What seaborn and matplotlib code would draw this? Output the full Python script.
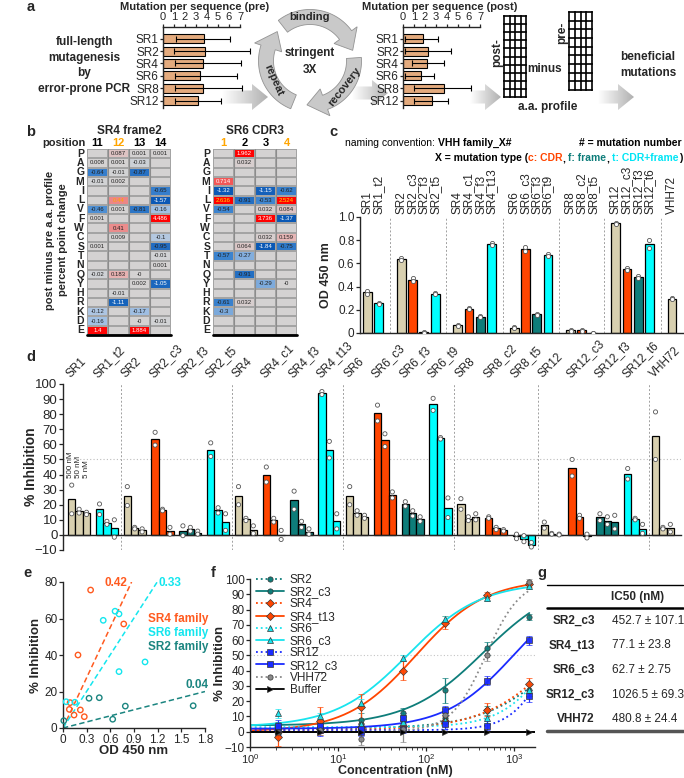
import numpy as np
import pandas as pd
import matplotlib
matplotlib.use("Agg")
import matplotlib.pyplot as plt
import seaborn as sns
from matplotlib.colors import LinearSegmentedColormap, TwoSlopeNorm
from matplotlib.patches import Polygon
from matplotlib.lines import Line2D
from matplotlib.transforms import ScaledTranslation

W, H = 684, 778

# ---------------- panel a : mutations per sequence ----------------
a_names = ["SR1", "SR2", "SR4", "SR6", "SR8", "SR12"]
a_pre = [3.7, 3.8, 3.6, 3.4, 3.6, 3.2]
a_pre_lo = [1.2, 1.0, 1.1, 1.1, 1.1, 1.1]
a_pre_hi = [6.1, 7.9, 7.1, 6.7, 7.2, 5.3]
a_post = [1.8, 2.3, 2.2, 1.6, 3.7, 2.6]
a_post_lo = [0.2, 0.2, 0.8, 0.2, 1.0, 1.0]
a_post_hi = [3.2, 4.4, 3.7, 2.8, 6.2, 4.1]

# ---------------- panel b : a.a. profile change ----------------
aa = list("PAGMILVFWCSTNQYHRKDE")
sr4_pos = ["11", "12", "13", "14"]
sr4_11 = ["", "0.008", "-0.64", "-0.01", "", "", "-0.46", "0.001", "", "", "0.001", "", "", "-0.02", "", "", "", "-0.12", "-0.16", "1.4"]
sr4_12 = ["0.087", "0.001", "-0.01", "0.002", "", "0.44", "0.001", "", "0.41", "0.009", "", "", "", "0.183", "", "-0.01", "-1.11", "", "", ""]
sr4_13 = ["0.001", "-0.03", "-0.87", "", "", "", "-0.81", "", "", "", "", "", "", "-0", "0.002", "", "", "-0.17", "-0", "1.884"]
sr4_14 = ["0.001", "", "", "", "-0.65", "-1.57", "-0.16", "4.486", "", "-0.1", "-0.95", "-0.01", "0.001", "", "-1.05", "", "", "", "-0.01", ""]
sr6_pos = ["1", "2", "3", "4"]
sr6_1 = ["", "", "", "0.714", "-1.32", "2.636", "-0.54", "", "", "", "", "-0.57", "", "", "", "", "-0.61", "-0.3", "", ""]
sr6_2 = ["1.962", "0.032", "", "", "", "-0.91", "", "", "", "", "0.064", "-0.27", "", "-0.91", "", "", "0.032", "", "", ""]
sr6_3 = ["", "", "", "", "-1.15", "-0.53", "0.032", "3.736", "", "0.032", "-1.84", "", "", "", "-0.29", "", "", "", "", ""]
sr6_4 = ["", "", "", "", "-0.62", "2.524", "0.084", "-1.37", "", "0.159", "-0.75", "", "", "", "-0", "", "", "", "", ""]

# ---------------- panel c : OD 450 ----------------
c_groups = [["SR1", "SR1_t2"], ["SR2", "SR2_c3", "SR2_f3", "SR2_t5"],
            ["SR4", "SR4_c1", "SR4_f3", "SR4_t13"], ["SR6", "SR6_c3", "SR6_f3", "SR6_t9"],
            ["SR8", "SR8_c2", "SR8_t5"], ["SR12", "SR12_c3", "SR12_f3", "SR12_t6"], ["VHH72"]]
ab_names = [n for g in c_groups for n in g]
c_rep1 = [0.36, 0.26, 0.65, 0.47, 0.01, 0.345, 0.07, 0.215, 0.145, 0.78, 0.05, 0.74, 0.165, 0.68, 0.03, 0.03, 0.0, 0.95, 0.56, 0.49, 0.80, 0.30]
c_rep2 = [0.34, 0.25, 0.63, 0.45, 0.0, 0.335, 0.06, 0.205, 0.135, 0.76, 0.04, 0.71, 0.155, 0.66, 0.02, 0.02, 0.0, 0.94, 0.54, 0.47, 0.73, 0.29]

# ---------------- panel d : % inhibition (two replicates) ----------------
d_concs = ["500 nM", "50 nM", "5 nM"]
d500_r1 = [33, 20.5, 32, 68, 6, 61, 32, 45, 29, 95, 32, 86, 22, 90.5, 24, 12, 0.5, 8.5, 50, 14, 44, 81.5]
d500_r2 = [14, 13.5, 19.5, 59.5, -0.5, 52, 20, 35, 17, 93, 20, 75.5, 19, 82.5, 17, 11, -2.5, 4.5, 39, 9.5, 37, 50]
d50_r1 = [17, 9, 5, 17, 5, 18, 11, 11, 9, 62, 16, 67, 16, 64.5, 12, 5, -0.5, 1, 13, 12, 11, 5]
d50_r2 = [14.5, 7, 4, 16, 2.5, 14.5, 9.5, 8.5, 5, 51, 13, 58.5, 12.5, 63.5, 9.5, 3.5, -4.5, 0.5, 11, 7, 10, 4]
d5_r1 = [15, 10, 4, 5, 2.5, 14, 6, 3, 4, 14, 13, 28.5, 12, 24.5, 14, 3.5, -5, 0.5, 0.5, 13, 7, 7]
d5_r2 = [13.5, -1.5, 2, 0.5, 0.5, 3, 1, -3, 0.5, 4, 11, 24.5, 9, 11.5, 10, 2.5, -8, 0, -2, 4, 1, 2]

# ---------------- panel e : OD vs inhibition ----------------
e_fams = ["SR4 family", "SR6 family", "SR2 family"]
e_sr4_od = [0.35, 0.77, 0.19, 0.09, 0.08, 0.22, 0.14, 0.27]
e_sr4_inh = [75.6, 57, 40, 13.9, 10.2, 9.9, 7.1, 6.2]
e_sr6_od = [0.66, 0.71, 0.51, 1.04, 0.71, 0.04, 0.15]
e_sr6_inh = [64, 62.5, 59, 36.2, 30.9, 14.4, 14.1]
e_sr2_od = [0.01, 0.33, 0.46, 0.79, 0.63, 1.65]
e_sr2_inh = [4, 16.3, 16.6, 12, 4.8, 12.2]
e_fit_slope = [92, 67, 11.1]
e_fit_label = ["0.42", "0.33", "0.04"]

# ---------------- panel f : dose response ----------------
f_conc = [2.06, 6.17, 18.5, 55.6, 167, 500, 1500]
f_names = ["SR2", "SR2_c3", "SR4", "SR4_t13", "SR6", "SR6_c3", "SR12", "SR12_c3", "VHH72", "Buffer"]
f_mean = {
    "SR2": [1.5, 3, 5, 7.5, 9, 14, 27.5],
    "SR2_c3": [2.5, 3.5, 8, 12.5, 27, 54.5, 75],
    "SR4": [0, 2, 3, 4, 7, 14.5, 31],
    "SR4_t13": [-3.5, 7, 16.5, 40, 71.5, 89.5, 96.5],
    "SR6": [2, 3.5, 5, 6.5, 8, 9, 27.5],
    "SR6_c3": [12, 10, 18.5, 48.5, 74, 87.5, 95.5],
    "SR12": [2, 1, 0, 2, 5, 4, 23.5],
    "SR12_c3": [3.5, 4, 2, 9, 14, 33.5, 60],
    "VHH72": [0, 1, -4.5, 2, 11, 50, 98],
    "Buffer": [0, 0, 0, 0, 0, 0, 0],
}
f_sd = {
    "SR2": [3, 3, 3, 3, 4, 3, 4],
    "SR2_c3": [4, 4, 4, 3, 8, 4, 2],
    "SR4": [3, 3, 3, 3, 3, 4, 4],
    "SR4_t13": [6, 9, 8, 6, 4, 2, 2],
    "SR6": [3, 3, 3, 3, 3, 3, 3],
    "SR6_c3": [3, 2, 3, 2, 2, 2, 2],
    "SR12": [4, 4, 3, 3, 3, 3, 4],
    "SR12_c3": [4, 4, 3, 3, 3, 3, 3],
    "VHH72": [3, 3, 4, 9, 4, 4, 2],
    "Buffer": [0, 0, 0, 0, 0, 0, 0],
}
# 4PL fit: bottom, top, IC50, hill
f_fit = {
    "SR2": (2, 100, 4000, 1.0), "SR2_c3": (4, 100, 452.7, 1.0),
    "SR4": (1, 100, 3500, 1.0), "SR4_t13": (0, 100, 77.1, 1.1),
    "SR6": (3, 100, 3000, 1.5), "SR6_c3": (3, 98, 62.7, 1.05),
    "SR12": (1, 100, 2700, 2.0), "SR12_c3": (2, 100, 1026.5, 1.1),
    "VHH72": (0, 100, 480.8, 2.2),
}

# ---------------- panel g : IC50 table ----------------
g_names = ["SR2_c3", "SR4_t13", "SR6_c3", "SR12_c3", "VHH72"]
g_vals = ["452.7 \u00b1 107.1", "77.1 \u00b1 23.8", "62.7 \u00b1 2.75", "1026.5 \u00b1 69.3", "480.8 \u00b1 24.4"]

# ---------------- style ----------------
BEIGE = "#D8D0B0"
ORANGE = "#FF4500"
TEAL = "#0E7D7A"
CYAN = "#00FFFF"
BLUE = "#1A2BFF"
GREY = "#8a8a8a"


def ab_color(n):
    if "_c" in n:
        return ORANGE
    if "_f" in n:
        return TEAL
    if "_t" in n:
        return CYAN
    return BEIGE


ab_colors = {n: ab_color(n) for n in ab_names}

sns.set_style("ticks")
plt.rcParams["font.family"] = ["Liberation Sans", "DejaVu Sans"]
plt.rcParams["mathtext.fontset"] = "custom"
plt.rcParams["mathtext.rm"] = "Liberation Sans"
plt.rcParams["axes.linewidth"] = 1.0
plt.rcParams["xtick.major.width"] = 0.9
plt.rcParams["ytick.major.width"] = 0.9

fig = plt.figure(figsize=(W / 100, H / 100), dpi=100)
ax0 = fig.add_axes([0, 0, 1, 1])
ax0.axis("off")


def box(x0, y0, x1, y1):
    ax = fig.add_axes([x0 / W, 1 - y1 / H, (x1 - x0) / W, (y1 - y0) / H])
    ax.patch.set_alpha(0)
    return ax


def txt(x, y, s, size=8, bold=False, **kw):
    kw.setdefault("ha", "center")
    kw.setdefault("va", "center")
    return ax0.text(x, y, s, fontsize=size, fontweight="bold" if bold else "normal", **kw)


rend = fig.canvas.get_renderer()


def text_w(s, size, wt):
    t = ax0.text(0, 0, s, fontsize=size, fontweight=wt)
    w = t.get_window_extent(rend).width
    t.remove()
    return w


def rich_text(x, y, parts, size, align="left"):
    sp = text_w("x x", size, "bold") - text_w("xx", size, "bold")
    items, total = [], 0
    for s, col, wt in parts:
        lead = len(s) - len(s.lstrip(" "))
        trail = len(s) - len(s.rstrip(" "))
        core = s.strip(" ")
        w = text_w(core, size, wt) if core else 0
        items.append((core, col, wt, total + lead * sp))
        total += lead * sp + w + trail * sp
    x0 = x if align == "left" else x - total
    for core, col, wt, off in items:
        if core:
            ax0.text(x0 + off, y, core, fontsize=size, color=col, fontweight=wt, ha="left", va="center")


# ================= panel a =================
for lbl, x, y in [("a", 31, 7), ("b", 31, 132), ("c", 333, 132), ("d", 31, 357),
                  ("e", 28, 573), ("f", 213, 573), ("g", 542, 573)]:
    txt(x, y, lbl, 10.5, True)

fade = LinearSegmentedColormap.from_list("fade", ["#ffffff", "#b0b0b0"])


def big_arrow(x0, x1, yc, th=13, hh=26, hl=16):
    pts = [(x0, yc - th / 2), (x1 - hl, yc - th / 2), (x1 - hl, yc - hh / 2), (x1, yc),
           (x1 - hl, yc + hh / 2), (x1 - hl, yc + th / 2), (x0, yc + th / 2)]
    poly = Polygon(pts, closed=True, fc="none", ec="none")
    ax0.add_patch(poly)
    im = ax0.imshow(np.linspace(0, 1, 128)[None, :], extent=(x0, x1, yc + hh / 2, yc - hh / 2),
                    cmap=fade, aspect="auto", zorder=0.5)
    im.set_clip_path(poly)


big_arrow(222, 268, 97)
big_arrow(352, 388, 93)
big_arrow(470, 501, 97)
big_arrow(598, 634, 97)


def mut_panel(x0, x1, means, lo, hi):
    ax = box(x0, 27, x1, 108)
    sns.barplot(x=means, y=a_names, orient="h", color="#E4AB7E", saturation=1,
                edgecolor="black", linewidth=0.8, width=0.72, ax=ax)
    ax.errorbar(means, np.arange(len(means)), xerr=[np.subtract(means, lo), np.subtract(hi, means)],
                fmt="none", ecolor="black", elinewidth=0.8, capsize=2.2, capthick=0.8, clip_on=False, zorder=4)
    ax.set_xlim(0, 7)
    ax.set_ylim(5.6, -0.95)
    ax.xaxis.tick_top()
    ax.set_xticks(range(8))
    ax.tick_params(axis="x", labelsize=8, length=2.5, pad=1)
    ax.tick_params(axis="y", labelsize=8.5, length=2, pad=1)
    ax.spines["bottom"].set_visible(False)
    ax.spines["right"].set_visible(False)
    ax.set_xlabel("")
    ax.set_ylabel("")
    return ax


mut_panel(163, 240, a_pre, a_pre_lo, a_pre_hi)
mut_panel(403, 480, a_post, a_post_lo, a_post_hi)
txt(195, 7, "Mutation per sequence (pre)", 8, True)
txt(440, 7, "Mutation per sequence (post)", 8, True)
for i, s in enumerate(["full-length", "mutagenesis", "by", "error-prone PCR"]):
    txt(84, 42 + 15.5 * i, s, 8.5, True)

# stringent selection cycle
cx, cy, r, wd = 310, 61, 44, 15


def arc_arrow(t0, t1, ttip, color="#c9c9c9"):
    ang = np.radians(np.linspace(t0, t1, 40))
    outer = [(cx + (r + wd / 2) * np.cos(a), cy - (r + wd / 2) * np.sin(a)) for a in ang]
    inner = [(cx + (r - wd / 2) * np.cos(a), cy - (r - wd / 2) * np.sin(a)) for a in ang[::-1]]
    a1, at = np.radians(t1), np.radians(ttip)
    hw = wd * 0.95
    head = [(cx + (r + hw) * np.cos(a1), cy - (r + hw) * np.sin(a1)),
            (cx + r * np.cos(at), cy - r * np.sin(at)),
            (cx + (r - hw) * np.cos(a1), cy - (r - hw) * np.sin(a1))]
    ax0.add_patch(Polygon(outer + head + inner, closed=True, fc=color, ec="#939393", lw=0.6, zorder=1))


arc_arrow(128, 36, 14)
arc_arrow(4, -70, -94)
arc_arrow(-112, -198, -222)
txt(310, 17, "binding", 8, True, zorder=3)
txt(310, 53, "stringent", 8.5, True)
txt(310, 70, "3X", 8.5, True)
txt(274, 80, "repeat", 8, True, rotation=-66, zorder=3)
txt(345, 87, "recovery", 8, True, rotation=52, zorder=3)


def grid(x0, y0, x1, y1, nc, nr):
    for i in range(nc + 1):
        xx = x0 + (x1 - x0) * i / nc
        ax0.plot([xx, xx], [y0, y1], color="black", lw=1.2, solid_capstyle="projecting")
    for j in range(nr + 1):
        yy = y0 + (y1 - y0) * j / nr
        ax0.plot([x0, x1], [yy, yy], color="black", lw=1.2, solid_capstyle="projecting")


grid(504, 16, 526, 97, 4, 10)
grid(569, 12, 592, 90, 4, 9)
txt(497, 53, "post-", 8.5, True, rotation=90)
txt(562, 33, "pre-", 8.5, True, rotation=90)
txt(545, 69, "minus", 8.5, True)
txt(548, 107, "a.a. profile", 8.5, True)
txt(648, 57, "beneficial", 8.5, True)
txt(648, 73, "mutations", 8.5, True)

# ================= panel b =================
hm_cmap = LinearSegmentedColormap.from_list(
    "hm", [(0.0, "#0a58b5"), (0.3, "#3f86d0"), (0.45, "#a9c4e4"), (0.5, "#d3d3d3"),
           (0.55, "#e6b8b8"), (0.72, "#f06060"), (0.85, "#ff1a1a"), (1.0, "#ff0000")])
hm_norm = TwoSlopeNorm(vmin=-1.3, vcenter=0, vmax=1.5)


def heat_panel(x0, cols, pos_labels, pos_colors, hi_cells):
    ax = box(x0, 149, x0 + 84, 335)
    lab = np.array(cols).T
    val = np.array([[float(s) if s else 0.0 for s in row] for row in lab])
    sns.heatmap(val, ax=ax, cmap=hm_cmap, norm=hm_norm, annot=lab, fmt="", cbar=False,
                linewidths=0.35, linecolor="#a4a4a4", xticklabels=pos_labels, yticklabels=aa,
                annot_kws={"fontsize": 4.3})
    for t in ax.texts:
        px, py = t.get_position()
        ci, ri = int(px), int(py)
        v = val[ri, ci]
        col = "white" if (v <= -1.0 or v >= 0.6) else "#222222"
        for (hr, hc, hcol) in hi_cells:
            if hr == ri and hc == ci:
                col = hcol
        t.set_color(col)
    for k in range(1, 4):
        ax.axvline(k, color="#8c8c8c", lw=0.8)
    ax.axhline(20, color="black", lw=2.0, clip_on=False)
    ax.xaxis.tick_top()
    ax.tick_params(axis="x", length=0, pad=1, labelsize=8)
    ax.tick_params(axis="y", length=0, pad=2, labelsize=7.5, rotation=0)
    for lbl, c in zip(ax.get_xticklabels(), pos_colors):
        lbl.set_color(c)
        lbl.set_fontweight("bold")
    for lbl in ax.get_yticklabels():
        lbl.set_fontweight("bold")
    return ax


heat_panel(87, [sr4_11, sr4_12, sr4_13, sr4_14], sr4_pos, ["black", "#FFA500", "black", "black"],
           [(5, 1, "#FFA500")])
heat_panel(213, [sr6_1, sr6_2, sr6_3, sr6_4], sr6_pos, ["#FFA500", "black", "black", "#FFA500"],
           [(5, 0, "#FFE000"), (5, 3, "#FFE000")])
txt(129, 131, "SR4 frame2", 8.5, True)
txt(255, 131, "SR6 CDR3", 8.5, True)
txt(86, 143, "position", 8, True, ha="right")
txt(50, 240, "post minus pre a.a. profile", 8, True, rotation=90)
txt(63, 240, "percent point change", 8, True, rotation=90)

# ================= panel c =================
c_slots = []
for gi, g in enumerate(c_groups):
    if gi:
        c_slots.append(" " * gi)
    c_slots += g
dfc = pd.DataFrame({"ab": ab_names * 2, "od": c_rep1 + c_rep2})
axc = box(360, 217, 683, 333)
sns.barplot(data=dfc, x="ab", y="od", hue="ab", order=c_slots, hue_order=ab_names, palette=ab_colors,
            errorbar=None, width=0.78, saturation=1, edgecolor="black", linewidth=0.9, legend=False, ax=axc)
sns.stripplot(data=dfc, x="ab", y="od", order=c_slots, jitter=False, color="white",
              edgecolor="#555555", linewidth=0.6, size=3.0, ax=axc, zorder=4)
for i, s in enumerate(c_slots):
    if not s.strip():
        axc.axvline(i, 0, 1, color="#a0a0a0", ls=(0, (2, 2)), lw=0.7, zorder=0)
axc.set_xlim(-0.66, 27.97)
axc.set_ylim(0, 1.0)
axc.set_yticks([0, 0.2, 0.4, 0.6, 0.8, 1.0])
axc.set_yticklabels(["0", "0.2", "0.4", "0.6", "0.8", "1.0"])
axc.xaxis.tick_top()
axc.set_xticks(range(len(c_slots)))
axc.set_xticklabels([s.strip() for s in c_slots], rotation=90)
axc.tick_params(axis="x", length=0, pad=2, labelsize=8.5)
axc.tick_params(axis="y", length=3, pad=1, labelsize=8.5)
axc.spines["top"].set_visible(False)
axc.spines["right"].set_visible(False)
axc.set_xlabel("")
axc.set_ylabel("")
txt(326, 275, "OD 450 nm", 9, True, rotation=90)
rich_text(345, 143, [("naming convention: ", "black", "normal"), ("VHH family_X#", "black", "bold")], 7.5)
rich_text(682, 143, [("# = mutation number", "black", "bold")], 7.5, align="right")
rich_text(682, 158, [("X = mutation type (", "black", "bold"), ("c: CDR", ORANGE, "bold"), (", ", "black", "bold"),
                     ("f: frame", TEAL, "bold"), (", ", "black", "bold"), ("t: CDR+frame", "#00E5F5", "bold"),
                     (")", "black", "bold")], 7.5, align="right")

# ================= panel d =================
rows = []
for conc, r1, r2 in zip(d_concs, [d500_r1, d50_r1, d5_r1], [d500_r2, d50_r2, d5_r2]):
    for n, v1, v2 in zip(ab_names, r1, r2):
        rows += [(n, conc, v1), (n, conc, v2)]
dfd = pd.DataFrame(rows, columns=["ab", "conc", "val"])
axd = box(63, 384, 681, 550)
sns.barplot(data=dfd, x="ab", y="val", hue="conc", order=ab_names, hue_order=d_concs,
            palette=[BEIGE] * 3, errorbar=None, width=0.8, saturation=1, edgecolor="black",
            linewidth=0.9, legend=False, ax=axd)
for cont in axd.containers:
    for bar in cont:
        idx = int(round(bar.get_x() + bar.get_width() / 2))
        bar.set_facecolor(ab_colors[ab_names[idx]])
sns.stripplot(data=dfd, x="ab", y="val", hue="conc", order=ab_names, hue_order=d_concs, dodge=True,
              jitter=False, palette=["white"] * 3, edgecolor="#555555", linewidth=0.6, size=3.0,
              legend=False, ax=axd, zorder=4)
sep = np.cumsum([len(g) for g in c_groups])[:-1] - 0.5
for s in sep:
    axd.axvline(s, color="#a0a0a0", ls=(0, (2, 2)), lw=0.7, zorder=0)
axd.axhline(50, color="#bdbdbd", ls=(0, (1, 2)), lw=0.8, zorder=0)
axd.set_xlim(-0.58, 21.65)
axd.set_ylim(-10, 100)
axd.set_yticks(range(-10, 101, 10))
axd.spines["bottom"].set_position(("data", 0))
axd.spines["top"].set_visible(False)
axd.spines["right"].set_visible(False)
axd.xaxis.tick_top()
axd.set_xticks(range(len(ab_names)))
axd.set_xticklabels(ab_names, rotation=45, ha="left", rotation_mode="anchor")
axd.tick_params(axis="x", length=0, pad=3, labelsize=8.5)
axd.tick_params(axis="y", length=3, pad=1, labelsize=9.5)
axd.set_xlabel("")
axd.set_ylabel("")
shift = ScaledTranslation(-0.07, 0, fig.dpi_scale_trans)
for lbl in axd.get_xticklabels():
    lbl.set_transform(lbl.get_transform() + shift)
txt(31, 467, "% Inhibition", 10, True, rotation=90)
for x, s in zip([70, 78.5, 87], d_concs):
    txt(x, 478, s, 5.8, rotation=90, va="bottom")

# ================= panel e =================
axe = box(63, 582, 205, 728)
e_colors = {"SR4 family": "#FF5A1F", "SR6 family": "#14E6EE", "SR2 family": "#1B8580"}
dfe = pd.DataFrame({
    "od": e_sr4_od + e_sr6_od + e_sr2_od,
    "inh": e_sr4_inh + e_sr6_inh + e_sr2_inh,
    "fam": ["SR4 family"] * len(e_sr4_od) + ["SR6 family"] * len(e_sr6_od) + ["SR2 family"] * len(e_sr2_od),
})
sns.scatterplot(data=dfe, x="od", y="inh", hue="fam", palette=e_colors, s=15, linewidth=1.0,
                legend=False, ax=axe, clip_on=False, zorder=4)
coll = axe.collections[0]
coll.set_edgecolors(coll.get_facecolors())
coll.set_facecolors("none")
for fam, slope in zip(e_fams, e_fit_slope):
    xe = min(1.8, 80 / slope)
    axe.plot([0, xe], [0, slope * xe], color=e_colors[fam], ls=(0, (3.5, 2)), lw=1.1)
axe.set_xlim(0, 1.8)
axe.set_ylim(0, 80)
axe.set_xticks([0, 0.3, 0.6, 0.9, 1.2, 1.5, 1.8])
axe.set_xticklabels(["0", "0.3", "0.6", "0.9", "1.2", "1.5", "1.8"])
axe.set_yticks([0, 20, 40, 60, 80])
axe.tick_params(labelsize=8.5, length=3, pad=1)
axe.spines["top"].set_visible(False)
axe.spines["right"].set_visible(False)
axe.set_xlabel("")
axe.set_ylabel("")
txt(134, 751, "OD 450 nm", 9.5, True)
txt(36, 655, "% Inhibition", 9.5, True, rotation=90)
for (x, y), lab, fam in zip([(116, 583), (170, 583), (197, 685)], e_fit_label, e_fams):
    txt(x, y, lab, 8.5, True, color=e_colors[fam])
for i, fam in enumerate(e_fams):
    txt(148, 619 + 14 * i, fam, 8.5, True, ha="left", color=e_colors[fam])

# ================= panel f =================
axf = box(250, 579, 535, 747)
f_styles = {"SR2": (TEAL, ":", "o"), "SR2_c3": (TEAL, "-", "o"),
            "SR4": (ORANGE, ":", "D"), "SR4_t13": (ORANGE, "-", "D"),
            "SR6": ("#18E4EE", ":", "^"), "SR6_c3": ("#18E4EE", "-", "^"),
            "SR12": (BLUE, ":", "s"), "SR12_c3": (BLUE, "-", "s"),
            "VHH72": (GREY, ":", "o"), "Buffer": ("black", "-", ">")}
xs = np.logspace(0, np.log10(1500), 200)
handles = []
for n in f_names:
    col, ls, mk = f_styles[n]
    if n in f_fit:
        b, t, ec, h = f_fit[n]
        axf.plot(xs, b + (t - b) / (1 + (ec / xs) ** h), color=col, ls=ls, lw=1.3, zorder=2)
    else:
        axf.axhline(0, color=col, lw=1.4, zorder=2)
    axf.errorbar(f_conc, f_mean[n], yerr=f_sd[n], fmt=mk, color=col, mec="#333333", mew=0.5, ms=3.8,
                 ecolor=col, elinewidth=0.9, capsize=2, capthick=0.9, ls="none", zorder=3, alpha=0.95)
    handles.append(Line2D([], [], color=col, ls=ls, lw=1.3, marker=mk, ms=3.8, mec="#333333", mew=0.5))
axf.axhline(50, color="#c4c4c4", ls=(0, (1, 2)), lw=0.8, zorder=0)
axf.set_xscale("log")
axf.set_xlim(1, 1740)
axf.set_ylim(-10, 100)
axf.set_yticks(range(-10, 101, 10))
axf.set_xticks([1, 10, 100, 1000])
axf.set_xticklabels(["$10^{0}$", "$10^{1}$", "$10^{2}$", "$10^{3}$"])
axf.tick_params(labelsize=8.5, length=3, pad=1)
axf.tick_params(axis="x", labelsize=8, pad=0.5)
axf.tick_params(which="minor", length=2)
axf.spines["top"].set_visible(False)
axf.spines["right"].set_visible(False)
axf.legend(handles, f_names, loc="upper left", bbox_to_anchor=(0.02, 1.03), frameon=False,
           fontsize=8.5, handlelength=2.4, handletextpad=0.5, labelspacing=0.02, borderaxespad=0, borderpad=0)
txt(395, 771, "Concentration (nM)", 9, True)
txt(220, 663, "% Inhibition", 9.5, True, rotation=90)

# ================= panel g =================
ax0.plot([547, 683], [585, 585], color="black", lw=1.0)
ax0.plot([547, 683], [608, 608], color="black", lw=1.8)
ax0.plot([547, 683], [731, 731], color="#555555", lw=2.5)
txt(638, 597, "IC50 (nM)", 8.5, True)
for i, (n, v) in enumerate(zip(g_names, g_vals)):
    y = 621 + 24.5 * i
    txt(595, y, n, 8.5, True, ha="right")
    txt(612, y, v, 8.5, ha="left")

ax0.set_xlim(0, W)
ax0.set_ylim(H, 0)
fig.savefig("out.png", dpi=100)
